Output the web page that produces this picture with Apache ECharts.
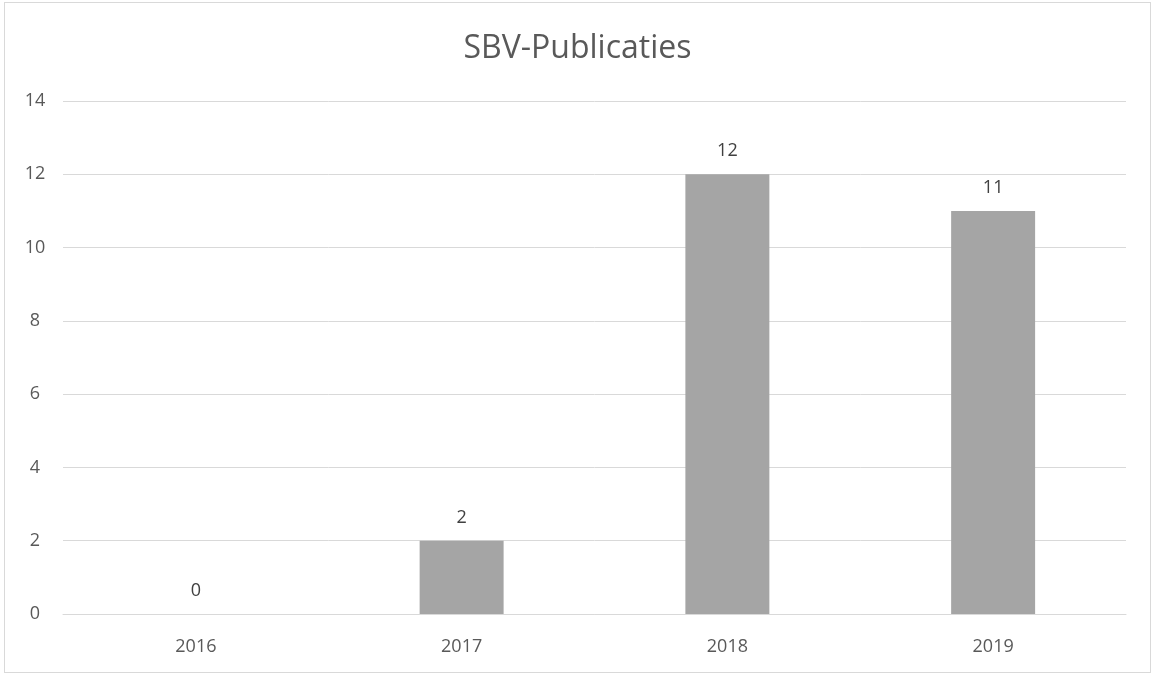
<!DOCTYPE html>
<html><head><meta charset="utf-8">
<script src="https://cdn.jsdelivr.net/npm/echarts@6/dist/echarts.min.js"></script>
<style>html,body{margin:0;padding:0;background:#fff}#c{width:1155px;height:676px}
#b{position:absolute;left:4px;top:2px;width:1147px;height:671px;border:1px solid #d9d9d9;box-sizing:border-box;pointer-events:none}</style>
</head><body><div id="c"></div><div id="b"></div>
<script>
const categories = ['2016','2017','2018','2019'];
const values = [0, 2, 12, 11];
const chart = echarts.init(document.getElementById('c'));
const font = '"Open Sans", "Noto Sans", sans-serif';
chart.setOption({
  animation: false,
  title: {text: 'SBV-Publicaties', left: 'center', top: 28,
    textStyle: {fontFamily: font, fontSize: 32, fontWeight: 'normal', color: '#595959'}},
  grid: {left: 63, right: 29, top: 101, bottom: 62},
  xAxis: {type: 'category', data: categories,
    axisLine: {lineStyle: {color: '#d9d9d9'}}, axisTick: {show: false},
    axisLabel: {fontFamily: font, fontSize: 18, color: '#595959', margin: 24}},
  yAxis: {type: 'value', min: 0, max: 14, interval: 2,
    axisLine: {show: false}, axisTick: {show: false},
    splitLine: {lineStyle: {color: '#d9d9d9', width: 1}},
    axisLabel: {fontFamily: font, fontSize: 18, color: '#595959', margin: 28, align: 'center'}},
  series: [{type: 'bar', data: values, barWidth: '31.6%',
    itemStyle: {color: '#a5a5a5'},
    label: {show: true, position: 'top', distance: 14, fontFamily: font, fontSize: 18, color: '#404040'}}]
});
</script></body></html>
